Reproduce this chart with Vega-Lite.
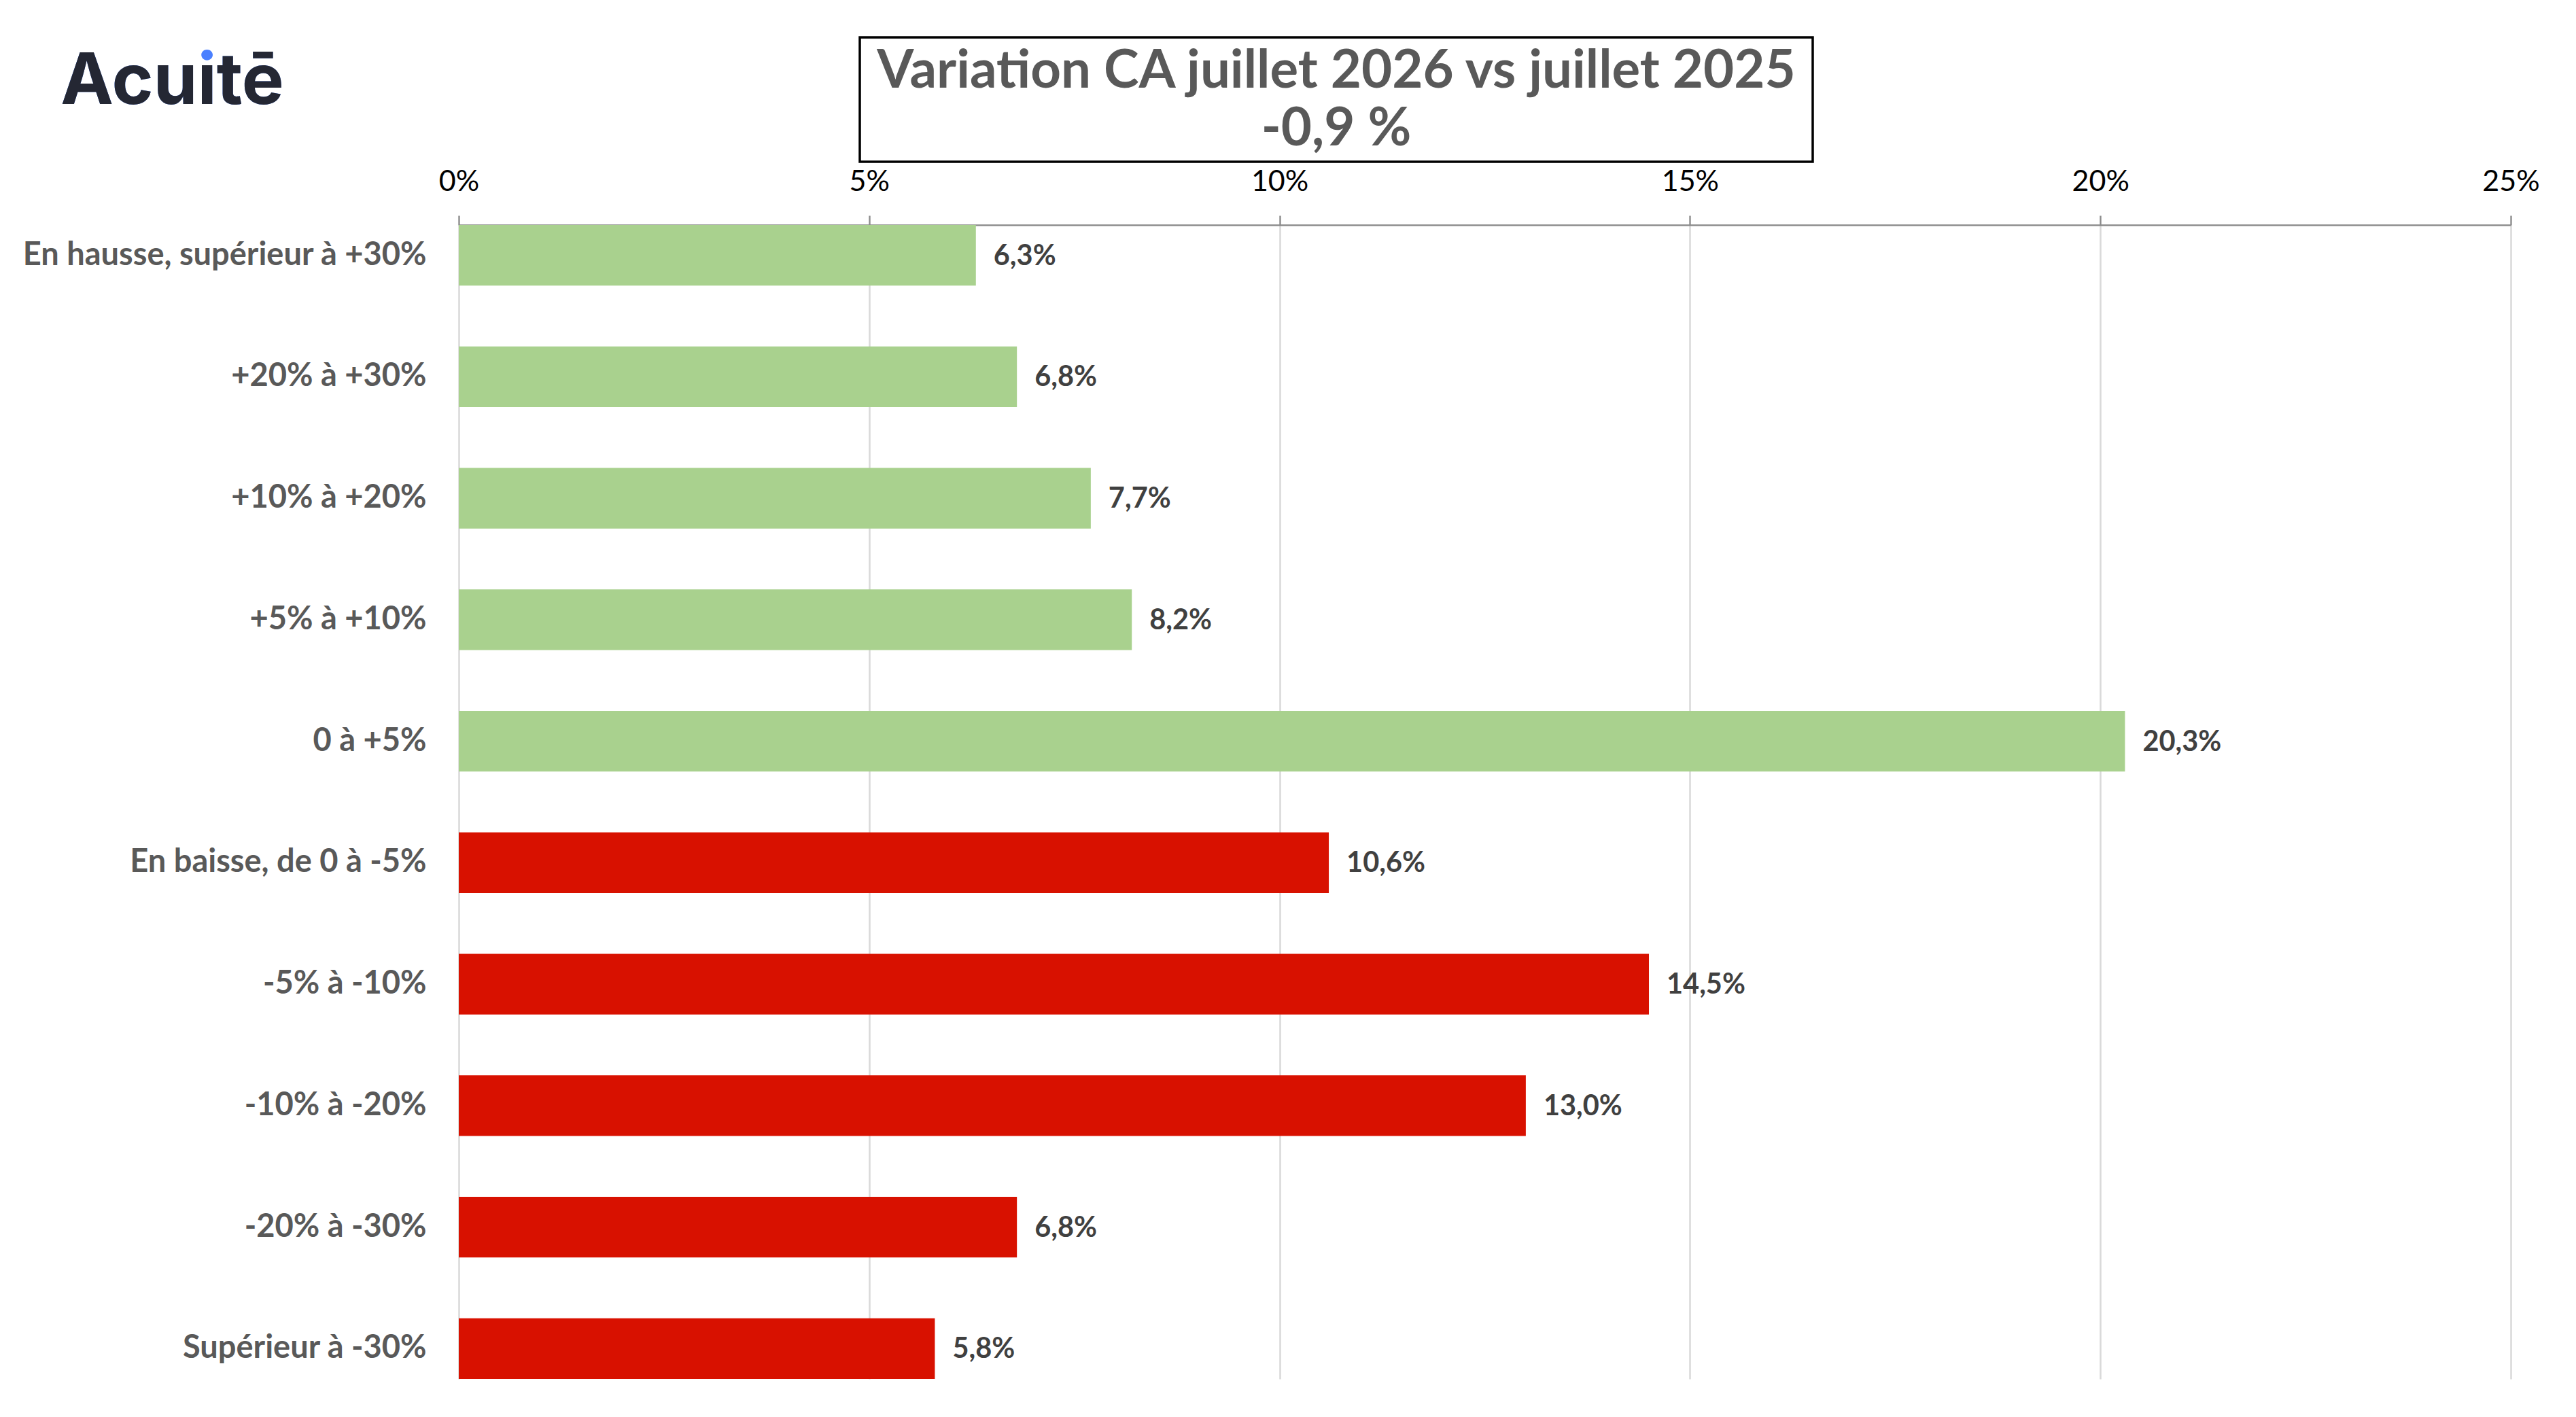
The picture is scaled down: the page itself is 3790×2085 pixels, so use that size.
{
  "$schema": "https://vega.github.io/schema/vega-lite/v6.json",
  "background": "white",
  "autosize": {"type": "pad"},
  "padding": {"left": 32, "top": 53, "right": 61, "bottom": 58},
  "config": {
    "font": "Lato",
    "view": {"stroke": null},
    "locale": {"number": {"decimal": ",", "thousands": " ", "grouping": [3], "currency": ["", " €"]}}
  },
  "datasets": {
    "repartition": [
      {"tranche": "En hausse, supérieur à +30%", "sens": "hausse", "part": 0.063},
      {"tranche": "+20% à +30%", "sens": "hausse", "part": 0.068},
      {"tranche": "+10% à +20%", "sens": "hausse", "part": 0.077},
      {"tranche": "+5% à +10%", "sens": "hausse", "part": 0.082},
      {"tranche": "0 à +5%", "sens": "hausse", "part": 0.203},
      {"tranche": "En baisse, de 0 à -5%", "sens": "baisse", "part": 0.106},
      {"tranche": "-5% à -10%", "sens": "baisse", "part": 0.145},
      {"tranche": "-10% à -20%", "sens": "baisse", "part": 0.130},
      {"tranche": "-20% à -30%", "sens": "baisse", "part": 0.068},
      {"tranche": "Supérieur à -30%", "sens": "baisse", "part": 0.058}
    ],
    "entete": [
      {"logo": "Acuitē", "logo_sans_point": "Acuıtē", "titre": "Variation CA juillet 2026 vs juillet 2025\n-0,9 %"}
    ]
  },
  "vconcat": [
    {
      "hconcat": [
        {
          "width": 1,
          "height": 133,
          "data": {"name": "entete"},
          "layer": [
            {
              "mark": {"type": "text", "font": "Inter", "fontWeight": 700, "fontSize": 104, "color": "#4a80ff", "dx": -422},
              "encoding": {"text": {"field": "logo", "type": "nominal"}}
            },
            {
              "mark": {"type": "text", "font": "Inter", "fontWeight": 700, "fontSize": 104, "color": "#242733", "dx": -422},
              "encoding": {"text": {"field": "logo_sans_point", "type": "nominal"}}
            }
          ]
        },
        {
          "width": 1402,
          "height": 183,
          "view": {"stroke": "black", "strokeWidth": 3.5},
          "data": {"name": "entete"},
          "mark": {"type": "text", "font": "Lato", "fontWeight": "bold", "fontSize": 78, "color": "#595959", "lineBreak": "\n", "lineHeight": 85, "dy": -41},
          "encoding": {"text": {"field": "titre", "type": "nominal"}}
        }
      ],
      "spacing": 587
    },
    {
      "width": 3019,
      "height": 1698,
      "data": {"name": "repartition"},
      "encoding": {
        "y": {
          "field": "tranche",
          "type": "nominal",
          "sort": null,
          "scale": {"paddingInner": 0.5, "paddingOuter": 0},
          "axis": {
            "title": null,
            "domain": false,
            "ticks": false,
            "grid": false,
            "labelFont": "Lato",
            "labelFontWeight": "bold",
            "labelFontSize": 47,
            "labelColor": "#595959",
            "labelPadding": 48,
            "labelLimit": 1000
          }
        },
        "x": {
          "field": "part",
          "type": "quantitative",
          "scale": {"domain": [0, 0.25], "nice": false},
          "axis": {
            "orient": "top",
            "title": null,
            "values": [0, 0.05, 0.1, 0.15, 0.2, 0.25],
            "format": ".0%",
            "labelFont": "Lato",
            "labelFontSize": 43,
            "labelColor": "black",
            "labelPadding": 28,
            "labelFlush": false,
            "domainColor": "#8c8c8c",
            "domainWidth": 2.4,
            "tickColor": "#8c8c8c",
            "tickWidth": 2.4,
            "tickSize": 14,
            "grid": true,
            "gridColor": "#d9d9d9",
            "gridWidth": 2.5
          }
        }
      },
      "layer": [
        {
          "mark": {"type": "bar"},
          "encoding": {
            "color": {
              "field": "sens",
              "type": "nominal",
              "scale": {"domain": ["hausse", "baisse"], "range": ["#a9d18e", "#d81100"]},
              "legend": null
            }
          }
        },
        {
          "mark": {"type": "text", "align": "left", "baseline": "middle", "dx": 26, "dy": 2, "font": "Lato", "fontWeight": "bold", "fontSize": 41.5, "color": "#404040"},
          "encoding": {"text": {"field": "part", "type": "quantitative", "format": ".1%"}}
        }
      ]
    }
  ],
  "spacing": 6
}
